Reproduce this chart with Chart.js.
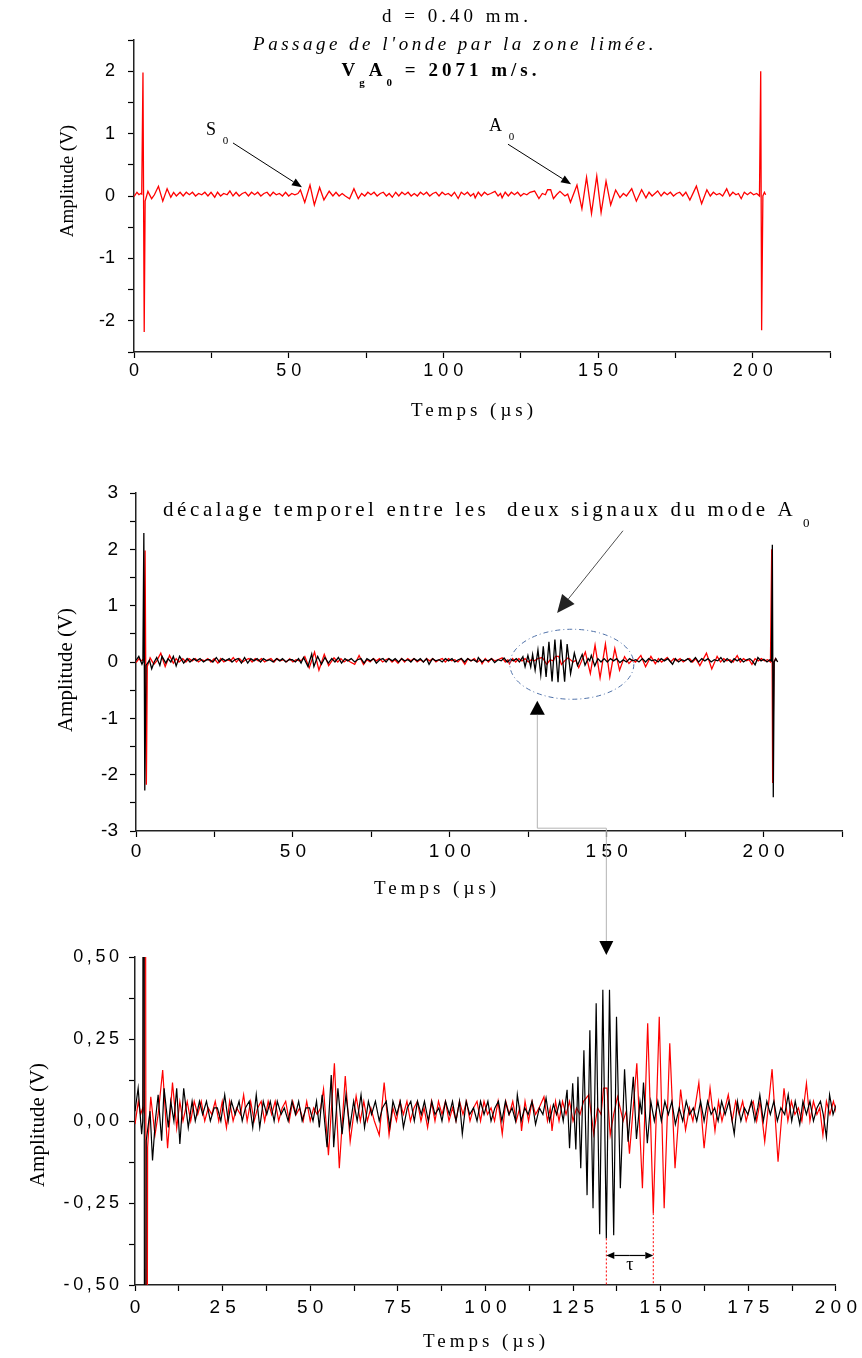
<!DOCTYPE html>
<html>
<head>
<meta charset="utf-8">
<script src="https://cdn.jsdelivr.net/npm/chart.js@4.4.1/dist/chart.umd.min.js"></script>
<style>
  body { margin: 0; background: #fff; }
  #wrap { position: relative; width: 862px; height: 1358px; }
  #wrap canvas { position: absolute; left: 0; }
</style>
</head>
<body>
<div id="wrap">
  <canvas id="chart1" width="862" height="440" style="top:0"></canvas>
  <canvas id="chart2" width="862" height="460" style="top:440px"></canvas>
  <canvas id="chart3" width="862" height="458" style="top:900px"></canvas>
  <canvas id="overlay" width="862" height="1358" style="top:0;pointer-events:none"></canvas>
</div>
<script>
// time (µs), amplitude (V): peaks, troughs and noise steps
const blackTrace = [
  [0, 0.03], [0.9, 0.10], [1.9, -0.04], [2.2, 0.0], [2.5, 2.29], [2.8, -2.28], [3.2, -0.06], [4.3, 0.03],
  [5.0, -0.12], [5.8, 0.0], [6.6, 0.08], [7.6, -0.06], [8.3, 0.10], [9.5, -0.02], [10.2, 0.06], [11.1, 0.0],
  [11.9, 0.10], [12.8, -0.07], [13.9, 0.10], [15.2, -0.02], [16.3, 0.06], [17.2, 0.0], [18.4, 0.06], [19.3, 0.02],
  [20.4, 0.06], [21.5, 0.0], [22.6, 0.04], [23.5, 0.04], [24.5, 0.0], [25.6, 0.08], [26.6, 0.0], [27.5, 0.06],
  [28.6, 0.02], [29.7, 0.06], [30.6, 0.0], [31.5, 0.04], [32.6, 0.06], [33.6, -0.02], [34.6, 0.08], [35.6, -0.02],
  [36.6, 0.06], [37.6, 0.02], [38.6, 0.06], [39.7, 0.0], [40.6, 0.06], [41.7, 0.02], [42.6, 0.04], [43.7, 0.0],
  [44.8, 0.06], [45.8, 0.02], [46.7, 0.06], [47.7, 0.0], [48.8, 0.04], [49.8, 0.04], [50.8, 0.0], [51.8, 0.06],
  [52.6, -0.02], [53.4, 0.08], [54.8, -0.08], [56.0, 0.14], [56.7, -0.08], [57.9, 0.10], [59.1, -0.04], [60.2, 0.08],
  [61.3, -0.02], [62.4, 0.06], [63.4, 0.0], [64.5, 0.08], [65.5, -0.02], [66.6, 0.06], [67.5, 0.02], [68.6, 0.06],
  [69.7, 0.0], [70.6, 0.04], [71.7, 0.06], [72.7, -0.02], [73.6, 0.06], [74.7, 0.02], [75.7, 0.06], [76.6, -0.02],
  [77.7, 0.04], [78.7, 0.06], [79.7, 0.0], [80.6, 0.06], [81.7, 0.02], [82.6, 0.06], [83.7, 0.0], [84.7, 0.06],
  [85.6, 0.02], [86.7, 0.04], [87.6, 0.0], [88.6, 0.06], [89.7, 0.02], [90.6, 0.06], [91.6, 0.0], [92.6, 0.06],
  [93.4, -0.04], [94.5, 0.06], [95.5, 0.02], [96.6, 0.04], [97.6, 0.0], [98.6, 0.06], [99.6, 0.02], [100.7, 0.06],
  [101.6, 0.0], [102.7, 0.04], [103.7, 0.06], [104.7, 0.0], [105.7, 0.06], [106.7, 0.02], [107.6, 0.04], [108.6, 0.0],
  [109.1, 0.08], [110.2, 0.0], [111.2, 0.04], [112.2, 0.02], [113.3, 0.06], [114.3, -0.01], [115.4, 0.04], [116.4, 0.02],
  [117.3, 0.07], [118.3, 0.0], [119.4, 0.05], [120.3, 0.02], [121.2, 0.06], [122.2, 0.0], [123.3, 0.095], [124.0, -0.083],
  [124.9, 0.115], [125.8, -0.087], [126.4, 0.135], [127.2, -0.144], [128.1, 0.216], [129.0, -0.226], [129.8, 0.277], [130.7, -0.266],
  [131.6, 0.359], [132.6, -0.345], [133.5, 0.40], [134.5, -0.358], [135.4, 0.40], [136.6, -0.348], [137.4, 0.318], [138.5, -0.205],
  [139.7, 0.158], [140.7, -0.063], [142.2, 0.135], [143.1, -0.055], [144.1, 0.06], [144.6, 0.02], [145.1, 0.117], [146.2, -0.068],
  [147.2, 0.06], [148.2, 0.0], [149.2, 0.06], [150.2, 0.0], [151.2, 0.06], [152.2, 0.02], [153.2, 0.06], [154.2, -0.01],
  [155.3, 0.04], [156.3, 0.0], [157.3, 0.06], [158.3, 0.02], [159.3, 0.04], [160.3, 0.0], [161.4, 0.06], [162.4, 0.0],
  [163.4, 0.06], [164.4, 0.02], [165.4, 0.04], [166.4, 0.0], [167.4, 0.06], [168.4, 0.02], [169.5, 0.06], [170.4, 0.0],
  [171.0, -0.04], [171.9, 0.06], [172.9, 0.0], [173.9, 0.04], [174.9, 0.02], [175.9, 0.06], [176.9, 0.0], [177.7, 0.04],
  [178.3, 0.08], [179.3, 0.0], [180.3, 0.06], [181.3, 0.02], [182.3, 0.06], [183.3, 0.0], [184.3, 0.04], [185.4, 0.02],
  [186.4, 0.08], [187.4, 0.0], [188.4, 0.06], [189.7, -0.01], [190.6, 0.06], [191.6, 0.02], [192.6, 0.06], [193.6, 0.0],
  [194.6, 0.04], [195.6, 0.06], [196.4, 0.02], [197.3, -0.05], [198.2, 0.08], [199.2, 0.02], [200.1, 0.05], [201.1, 0.0],
  [202.0, 0.04], [202.5, 0.02], [202.8, 2.08], [203.1, -2.4], [203.4, 0.0], [203.9, 0.06], [204.5, 0.0]
];

const redTrace = [
  [0, -0.01], [0.95, 0.06], [1.6, 0.02], [2.2, 0.04], [2.5, 0.03], [2.9, 1.98], [3.3, -2.18], [3.6, -0.08],
  [4.5, 0.074], [5.7, -0.043], [6.6, 0.02], [7.9, 0.155], [9.3, -0.083], [10.7, 0.117], [11.9, -0.022], [12.8, 0.059],
  [13.7, 0.0], [14.9, 0.059], [15.9, 0.0], [16.9, 0.06], [17.9, 0.02], [18.9, 0.06], [19.9, 0.0], [20.9, 0.04],
  [21.9, 0.02], [22.9, 0.06], [23.9, 0.0], [24.9, 0.06], [26.1, -0.02], [27.0, 0.06], [28.0, 0.0], [29.0, 0.04],
  [30.1, 0.02], [31.0, 0.08], [32.0, 0.0], [33.0, 0.06], [34.0, 0.0], [35.0, 0.04], [36.0, 0.06], [37.0, 0.0],
  [38.0, 0.06], [39.0, 0.02], [40.0, 0.06], [41.0, 0.0], [42.0, 0.04], [43.0, 0.06], [44.0, 0.0], [45.0, 0.06],
  [46.0, 0.02], [47.0, 0.04], [48.0, 0.0], [49.0, 0.06], [50.0, 0.0], [51.0, 0.04], [52.0, 0.02], [53.0, 0.04],
  [53.8, 0.097], [55.2, -0.104], [56.9, 0.176], [58.3, -0.144], [60.0, 0.137], [61.4, -0.063], [63.1, 0.076], [64.3, 0.0],
  [65.3, 0.06], [66.3, 0.0], [67.3, 0.04], [68.3, 0.0], [69.7, -0.043], [71.1, 0.117], [72.5, -0.043], [73.6, 0.04],
  [74.6, 0.0], [75.6, 0.06], [76.6, 0.02], [77.6, 0.06], [78.6, 0.0], [79.6, 0.04], [80.6, 0.06], [81.6, 0.0],
  [82.5, 0.04], [83.5, -0.02], [84.6, 0.06], [85.6, 0.0], [86.6, 0.06], [87.6, 0.02], [88.6, 0.06], [89.6, 0.0],
  [90.6, 0.04], [91.6, 0.0], [92.6, 0.06], [93.6, 0.02], [94.6, 0.06], [95.6, 0.0], [96.6, 0.04], [97.6, 0.06],
  [98.6, 0.0], [99.6, 0.06], [100.6, 0.02], [101.6, 0.04], [102.6, 0.0], [103.6, 0.06], [104.8, -0.04], [105.8, 0.06],
  [106.8, 0.02], [107.8, 0.06], [108.8, 0.0], [109.8, 0.04], [110.3, -0.03], [111.3, 0.06], [112.3, 0.0], [113.3, 0.06],
  [114.3, 0.02], [115.3, 0.04], [116.7, 0.074], [117.7, 0.0], [118.5, 0.04], [119.0, -0.03], [120.0, 0.06], [121.0, 0.0],
  [122.0, 0.06], [123.0, 0.02], [124.0, 0.06], [125.0, 0.0], [126.0, 0.04], [127.0, 0.02], [128.0, 0.06], [129.5, 0.08],
  [130.9, -0.04], [132.0, 0.04], [133.0, 0.02], [133.7, 0.10], [134.7, 0.10], [135.6, -0.043], [136.6, 0.02], [137.7, 0.074],
  [139.3, 0.0], [140.2, 0.03], [141.1, -0.10], [143.2, 0.176], [144.8, -0.205], [146.3, 0.298], [147.9, -0.281], [149.6, 0.318],
  [151.0, -0.266], [152.6, 0.237], [154.1, -0.144], [155.7, 0.096], [157.1, -0.027], [158.2, 0.04], [159.2, 0.0], [160.9, 0.117],
  [162.4, -0.083], [164.1, 0.10], [165.5, -0.03], [166.5, 0.06], [167.5, 0.0], [168.4, 0.04], [169.3, 0.08], [170.4, 0.0],
  [171.4, 0.06], [172.4, 0.02], [173.4, 0.06], [174.4, 0.0], [175.4, 0.04], [176.4, 0.06], [177.4, 0.0], [178.4, 0.06],
  [179.7, -0.063], [181.8, 0.158], [183.5, -0.124], [185.2, 0.10], [186.3, 0.0], [187.3, 0.06], [188.3, 0.02], [189.3, 0.04],
  [190.3, 0.0], [191.6, 0.115], [192.6, 0.0], [193.6, 0.06], [194.6, 0.02], [195.4, 0.04], [196.3, -0.043], [197.3, 0.06],
  [198.3, 0.02], [199.3, 0.06], [200.3, 0.02], [201.3, 0.04], [202.2, 0.0], [202.6, 2.0], [202.9, -2.15], [203.3, 0.0],
  [203.8, 0.06], [204.2, 0.02]
];

const timeLabelsWide = [0, 50, 100, 150, 200];
const timeLabelsZoom = [0, 25, 50, 75, 100, 125, 150, 175, 200];
const ampLabels1 = [-2, -1, 0, 1, 2];
const ampLabels2 = [-3, -2, -1, 0, 1, 2, 3];
const ampLabels3 = [-0.5, -0.25, 0, 0.25, 0.5];

const SANS = '"Liberation Sans", Arial, sans-serif';
const SERIF = '"Liberation Serif", "Times New Roman", serif';

Chart.defaults.color = '#000';
Chart.defaults.font.family = SANS;

function spaced(s, sep) {
  return String(s).split('').join(sep);
}

function findLabel(list, v) {
  return list.find(l => Math.abs(l - v) < 1e-6);
}

function makeChart(id, cfg) {
  const canvas = document.getElementById(id);
  const h = canvas.height;
  return new Chart(canvas, {
    type: 'line',
    data: {
      datasets: cfg.series.map(s => ({
        data: s.trace.map(p => ({ x: p[0], y: p[1] })),
        borderColor: s.color,
        borderWidth: s.width,
        pointRadius: 0,
        tension: 0,
        fill: false
      }))
    },
    options: {
      responsive: false,
      animation: false,
      devicePixelRatio: 1,
      events: [],
      layout: { padding: { left: 0, top: cfg.area.top, right: 862 - cfg.area.right, bottom: 0 } },
      plugins: { legend: { display: false }, tooltip: { enabled: false } },
      scales: {
        x: {
          type: 'linear',
          min: cfg.x.min,
          max: cfg.x.max,
          afterFit: s => { s.height = h - cfg.area.bottom; },
          border: { display: true, color: '#222', width: 1.5 },
          grid: { drawOnChartArea: false, drawTicks: true, tickLength: 6, tickColor: '#000', tickWidth: 1.2 },
          ticks: {
            stepSize: cfg.x.step,
            autoSkip: false,
            maxRotation: 0,
            padding: cfg.x.pad,
            color: '#000',
            font: { family: SANS, size: cfg.x.size },
            callback: v => cfg.x.labels.includes(v) ? spaced(v, ' ') : ''
          }
        },
        y: {
          type: 'linear',
          min: cfg.y.min,
          max: cfg.y.max,
          afterFit: s => { s.width = cfg.area.left; },
          border: { display: true, color: '#222', width: 1.5 },
          grid: { drawOnChartArea: false, drawTicks: true, tickLength: 6, tickColor: '#000', tickWidth: 1.2 },
          ticks: {
            stepSize: cfg.y.step,
            autoSkip: false,
            padding: cfg.y.pad,
            color: '#000',
            font: { family: SANS, size: cfg.y.size },
            callback: v => {
              const m = findLabel(cfg.y.labels, v);
              return m === undefined ? '' : cfg.y.fmt(m);
            }
          }
        }
      }
    }
  });
}

const chart1 = makeChart('chart1', {
  area: { left: 134, right: 830, top: 40, bottom: 352 },
  series: [{ trace: redTrace, color: '#ff0000', width: 1.3 }],
  x: { min: 0, max: 225, step: 25, labels: timeLabelsWide, size: 18, pad: 2 },
  y: { min: -2.5, max: 2.5, step: 0.5, labels: ampLabels1, size: 18, pad: 13, fmt: v => String(v) }
});

const chart2 = makeChart('chart2', {
  area: { left: 136, right: 842, top: 53, bottom: 391 },
  series: [
    { trace: blackTrace, color: '#000000', width: 1.3 },
    { trace: redTrace, color: '#ff0000', width: 1.3 }
  ],
  x: { min: 0, max: 225, step: 25, labels: timeLabelsWide, size: 19, pad: 3 },
  y: { min: -3, max: 3, step: 0.5, labels: ampLabels2, size: 19, pad: 12, fmt: v => String(v) }
});

const chart3 = makeChart('chart3', {
  area: { left: 135, right: 838, top: 57, bottom: 385 },
  series: [
    { trace: blackTrace, color: '#000000', width: 1.2 },
    { trace: redTrace, color: '#ff0000', width: 1.2 }
  ],
  x: { min: 0, max: 200, step: 12.5, labels: timeLabelsZoom, size: 19, pad: 5 },
  y: { min: -0.5, max: 0.5, step: 0.125, labels: ampLabels3, size: 18, pad: 10,
       fmt: v => spaced(v.toFixed(2).replace('.', ','), '\u2009') }
});

// page coordinates of a data point in a chart
function at(chart, t, v) {
  return {
    x: chart.scales.x.getPixelForValue(t),
    y: chart.canvas.offsetTop + chart.scales.y.getPixelForValue(v)
  };
}

function richText(ctx, parts, x, y, o) {
  const fontOf = sub => `${o.style || 'normal'} ${o.weight || 'normal'} ${sub ? Math.round(o.size * 0.6) : o.size}px ${SERIF}`;
  ctx.save();
  ctx.fillStyle = o.color || '#000';
  ctx.textAlign = 'left';
  ctx.textBaseline = 'alphabetic';
  if ('letterSpacing' in ctx) ctx.letterSpacing = (o.spacing || 0) + 'px';
  const widths = parts.map(p => { ctx.font = fontOf(p.sub); return ctx.measureText(p.t).width; });
  const total = widths.reduce((a, b) => a + b, 0);
  let cx = o.align === 'center' ? x - total / 2 : x;
  if (o.rotate) {
    ctx.translate(x, y);
    ctx.rotate(o.rotate);
    cx = -total / 2;
    y = 0;
  }
  parts.forEach((p, i) => {
    ctx.font = fontOf(p.sub);
    ctx.fillText(p.t, cx, y + (p.sub ? o.size * 0.5 : 0));
    cx += widths[i];
  });
  ctx.restore();
}

function arrow(ctx, a, b, len, half, color, lw) {
  const ang = Math.atan2(b.y - a.y, b.x - a.x);
  const bx = b.x - len * Math.cos(ang), by = b.y - len * Math.sin(ang);
  ctx.save();
  ctx.strokeStyle = color;
  ctx.fillStyle = color;
  ctx.lineWidth = lw;
  ctx.beginPath();
  ctx.moveTo(a.x, a.y);
  ctx.lineTo(bx, by);
  ctx.stroke();
  ctx.beginPath();
  ctx.moveTo(b.x, b.y);
  ctx.lineTo(bx + half * Math.sin(ang), by - half * Math.cos(ang));
  ctx.lineTo(bx - half * Math.sin(ang), by + half * Math.cos(ang));
  ctx.closePath();
  ctx.fill();
  ctx.restore();
}

function triangle(ctx, tip, w, h, dir) {
  ctx.beginPath();
  ctx.moveTo(tip.x, tip.y);
  ctx.lineTo(tip.x - w / 2, tip.y + dir * h);
  ctx.lineTo(tip.x + w / 2, tip.y + dir * h);
  ctx.closePath();
  ctx.fillStyle = '#000';
  ctx.fill();
}

function drawOverlay() {
  const ctx = document.getElementById('overlay').getContext('2d');

  // chart 1 titles
  richText(ctx, [{ t: 'd = 0.40 mm.' }], 457, 22, { size: 19, spacing: 4, align: 'center' });
  richText(ctx, [{ t: "Passage de l'onde par la zone limée." }], 455, 50, { size: 19, style: 'italic', spacing: 3.5, align: 'center' });
  richText(ctx, [{ t: 'V' }, { t: 'g', sub: true }, { t: 'A' }, { t: '0', sub: true }, { t: ' = 2071 m/s.' }], 441, 76,
    { size: 19, weight: 'bold', spacing: 4, align: 'center' });

  // S0 and A0 labels with arrows
  const sLab = at(chart1, 23.3, 0.98);
  richText(ctx, [{ t: 'S' }, { t: ' 0', sub: true }], sLab.x, sLab.y, { size: 18, spacing: 2 });
  arrow(ctx, at(chart1, 32.0, 0.85), at(chart1, 54.3, 0.14), 10, 4, '#000', 1);
  const aLab = at(chart1, 114.8, 1.04);
  richText(ctx, [{ t: 'A' }, { t: ' 0', sub: true }], aLab.x, aLab.y, { size: 18, spacing: 2 });
  arrow(ctx, at(chart1, 120.9, 0.83), at(chart1, 141.3, 0.19), 10, 4, '#000', 1);

  // axis titles
  const xt = [{ t: 'Temps (µs)' }];
  richText(ctx, xt, 474, 416, { size: 19, spacing: 4, align: 'center' });
  richText(ctx, xt, 437, 894, { size: 19, spacing: 4, align: 'center' });
  richText(ctx, xt, 486, 1347, { size: 19, spacing: 4, align: 'center' });
  const yt = [{ t: 'Amplitude (V)' }];
  richText(ctx, yt, 73, 181, { size: 19, rotate: -Math.PI / 2 });
  richText(ctx, yt, 72, 670, { size: 21, rotate: -Math.PI / 2 });
  richText(ctx, yt, 44, 1125, { size: 21, rotate: -Math.PI / 2 });

  // chart 2 annotation
  richText(ctx, [{ t: 'décalage temporel entre les  deux signaux du mode A' }, { t: ' 0', sub: true }], 163, 516,
    { size: 21, spacing: 3.6 });
  arrow(ctx, at(chart2, 155.2, 2.33), at(chart2, 134.2, 0.87), 18, 8, '#222', 0.8);

  const c = at(chart2, 138.9, -0.04);
  ctx.save();
  ctx.strokeStyle = '#4f71a8';
  ctx.lineWidth = 1;
  ctx.setLineDash([5, 3, 1, 3]);
  ctx.beginPath();
  ctx.ellipse(c.x, c.y, 62, 35, 0, 0, Math.PI * 2);
  ctx.stroke();
  ctx.restore();

  const up = at(chart2, 127.9, -0.69);
  triangle(ctx, up, 15, 14, 1);
  const bend = at(chart2, 127.9, -2.95);
  const downX = at(chart3, 134.5, 0).x;
  const downTip = { x: downX, y: chart3.chartArea.top + 900 - 2 };
  ctx.save();
  ctx.strokeStyle = '#b4b4b4';
  ctx.lineWidth = 1;
  ctx.beginPath();
  ctx.moveTo(up.x, up.y + 14);
  ctx.lineTo(up.x, bend.y);
  ctx.lineTo(downX, bend.y);
  ctx.lineTo(downX, downTip.y - 14);
  ctx.stroke();
  ctx.restore();
  triangle(ctx, downTip, 14, 14, -1);

  // chart 3 tau marker
  ctx.save();
  ctx.strokeStyle = '#ff0000';
  ctx.lineWidth = 1;
  ctx.setLineDash([2, 2]);
  [[134.5, -0.358], [147.9, -0.281]].forEach(([t, v]) => {
    const p = at(chart3, t, v), q = at(chart3, t, -0.5);
    ctx.beginPath();
    ctx.moveTo(p.x, p.y);
    ctx.lineTo(q.x, q.y);
    ctx.stroke();
  });
  ctx.restore();
  const l = at(chart3, 134.5, -0.41), r = at(chart3, 147.9, -0.41);
  const mid = { x: (l.x + r.x) / 2, y: l.y };
  arrow(ctx, mid, l, 8, 3.5, '#000', 1.2);
  arrow(ctx, mid, r, 8, 3.5, '#000', 1.2);
  const tau = at(chart3, 141.2, -0.455);
  richText(ctx, [{ t: 'τ' }], tau.x, tau.y, { size: 18, align: 'center' });
}

drawOverlay();
</script>
</body>
</html>
